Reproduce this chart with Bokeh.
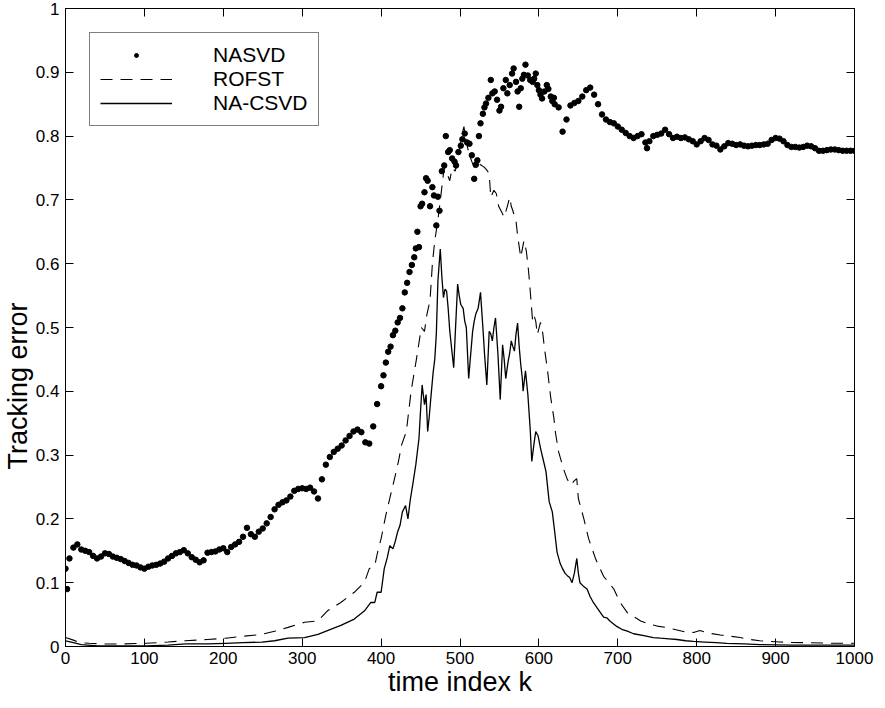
from bokeh.plotting import figure
from bokeh.models import Range1d, LinearAxis, FixedTicker, Legend, LegendItem, Title
from bokeh.embed import file_html
from bokeh.resources import INLINE

# ---------------- data ----------------
x_ticks = [0, 100, 200, 300, 400, 500, 600, 700, 800, 900, 1000]
x_tick_labels = ["0", "100", "200", "300", "400", "500", "600", "700", "800", "900", "1000"]
y_ticks = [0, 0.1, 0.2, 0.3, 0.4, 0.5, 0.6, 0.7, 0.8, 0.9, 1]
y_tick_labels = ["0", "0.1", "0.2", "0.3", "0.4", "0.5", "0.6", "0.7", "0.8", "0.9", "1"]

series_names = ["NASVD", "ROFST", "NA-CSVD"]
x_title = "time index k"
y_title = "Tracking error"

nasvd_k = [
    0, 2, 5, 10, 15, 20, 25, 30, 35, 40, 45, 50, 55, 60, 65, 70, 75, 80, 85, 90, 95,
    100, 105, 110, 115, 120, 125, 130, 135, 140, 145, 150, 155, 160, 165, 170, 175,
    180, 185, 190, 195, 200, 205, 210, 215, 220, 225, 230, 235, 240, 245, 250, 255,
    260, 265, 270, 275, 280, 285, 290, 295, 300, 305, 310, 315, 320, 325, 330, 335,
    340, 345, 350, 355, 360, 365, 370, 375, 380, 385, 390, 395, 400,
    403, 406, 409, 412, 415, 418, 421, 424, 427, 430, 433, 436, 439, 442, 444, 446,
    448, 450, 452, 455, 457, 459, 462, 465, 467, 470, 472, 474, 477, 480, 482, 485,
    487, 490, 493, 495, 498, 501, 503, 506, 509, 512, 515, 518, 520, 522, 524, 526,
    529, 531, 533, 536, 539, 541, 544, 547, 550, 552, 555, 558, 560, 563, 566, 568,
    571, 573, 575, 577, 579, 581, 583, 586, 589, 592, 594, 596, 598, 600, 602, 604,
    607, 610, 612, 615, 617, 619,
    620, 625, 630, 635, 640, 645, 650, 655, 660, 665, 670, 675, 680, 685, 690, 695,
    700, 705, 710, 715, 720, 725, 730, 735, 737, 740, 745, 750, 755, 760, 765, 770,
    775, 780, 785, 790, 795, 800, 805, 810, 815, 820, 825, 830, 835, 840, 845, 850,
    855, 860, 865, 870, 875, 880, 885, 890, 895, 900, 905, 910, 915, 920, 925, 930,
    935, 940, 945, 950, 955, 960, 965, 970, 975, 980, 985, 990, 995, 1000,
]
nasvd_err = [
    0.122, 0.09, 0.138, 0.155, 0.16, 0.152, 0.15, 0.148, 0.142, 0.138, 0.141, 0.146,
    0.145, 0.141, 0.139, 0.137, 0.134, 0.131, 0.128, 0.127, 0.124,
    0.122, 0.125, 0.127, 0.128, 0.13, 0.133, 0.138, 0.142, 0.146, 0.148, 0.151, 0.146,
    0.14, 0.136, 0.132, 0.135,
    0.147, 0.148, 0.149, 0.152, 0.154, 0.148, 0.156, 0.16, 0.164, 0.172, 0.186, 0.176,
    0.172, 0.18, 0.185, 0.193,
    0.203, 0.215, 0.222, 0.226, 0.229, 0.235, 0.244, 0.247, 0.248, 0.247, 0.249, 0.243,
    0.232, 0.262, 0.285, 0.297,
    0.305, 0.31, 0.315, 0.323, 0.33, 0.337, 0.34, 0.336, 0.32, 0.318, 0.345, 0.38, 0.408,
    0.425, 0.445, 0.462, 0.47, 0.488, 0.495, 0.508, 0.515, 0.53, 0.555, 0.57, 0.587,
    0.598, 0.61, 0.624, 0.65,
    0.626, 0.69, 0.694, 0.712, 0.734, 0.73, 0.69, 0.72, 0.707, 0.66, 0.705, 0.683,
    0.745, 0.754, 0.8, 0.775,
    0.778, 0.765, 0.76, 0.754, 0.775, 0.785, 0.795, 0.804, 0.79, 0.788, 0.77, 0.733,
    0.755, 0.762, 0.8, 0.82,
    0.835, 0.845, 0.851, 0.86, 0.888, 0.867, 0.87, 0.857, 0.84, 0.846, 0.875, 0.888,
    0.867, 0.88, 0.898, 0.906,
    0.885, 0.87, 0.846, 0.875, 0.89, 0.896, 0.912, 0.895, 0.888, 0.885, 0.89, 0.898,
    0.88, 0.872, 0.865, 0.859,
    0.87, 0.88, 0.874, 0.862, 0.855, 0.86,
    0.85, 0.845, 0.807, 0.826, 0.848, 0.852, 0.855, 0.862, 0.872, 0.876, 0.865, 0.85,
    0.834, 0.826, 0.822, 0.82,
    0.815, 0.81, 0.805, 0.8, 0.797, 0.8, 0.803, 0.79, 0.781, 0.792, 0.8, 0.802, 0.804,
    0.81, 0.803, 0.797,
    0.799, 0.797, 0.798, 0.795, 0.792, 0.787, 0.792, 0.797, 0.794, 0.787, 0.785, 0.779,
    0.784, 0.789, 0.788, 0.786,
    0.787, 0.785, 0.784, 0.785, 0.786, 0.786, 0.787, 0.788, 0.794, 0.797, 0.796, 0.792,
    0.786, 0.783, 0.783, 0.782,
    0.783, 0.785, 0.784, 0.781, 0.777, 0.777, 0.778, 0.779, 0.779, 0.778, 0.777, 0.777,
    0.777, 0.777,
]

rofst_k = [
    0, 10, 18, 30, 47, 70, 102, 130, 152, 180, 203, 225, 249, 265, 282, 303, 320, 332,
    349, 366, 379, 385, 392, 396, 400, 406, 411, 417, 422, 426, 432, 438, 445, 451, 455,
    458, 462, 465, 468, 471, 474, 477, 480, 484, 487, 490, 494, 498, 502, 505, 508, 512,
    515, 518, 522, 526, 531, 535, 537, 539, 543, 546, 549, 552, 556, 560, 563, 565, 567,
    571, 573, 577, 581, 584, 586, 588, 590, 592, 594, 596, 598, 602, 605, 607, 611, 615,
    619, 621, 625, 631, 636, 640, 645, 648, 650, 657, 663, 672, 682, 690, 695, 703, 712,
    720, 729, 740, 750, 760, 771, 785, 796, 804, 815, 830, 843, 855, 868, 880, 893, 905,
    920, 939, 960, 975, 990, 1000,
]
rofst_err = [
    0.014, 0.01, 0.006, 0.005, 0.004, 0.004, 0.005, 0.007, 0.009, 0.011, 0.013, 0.016,
    0.019, 0.024, 0.03, 0.038, 0.04, 0.056,
    0.069, 0.085, 0.101, 0.122, 0.127, 0.15, 0.169, 0.206, 0.232, 0.263, 0.29, 0.316,
    0.337, 0.4, 0.452, 0.5, 0.494,
    0.52, 0.542, 0.6, 0.636, 0.66, 0.688, 0.72, 0.751, 0.74, 0.73, 0.75, 0.745, 0.77,
    0.8, 0.815, 0.79, 0.77,
    0.76, 0.751, 0.76, 0.755, 0.751, 0.745, 0.741, 0.704, 0.715, 0.71, 0.69, 0.683,
    0.673, 0.69, 0.704, 0.69, 0.683,
    0.667, 0.644, 0.61, 0.636, 0.62, 0.6, 0.573, 0.542, 0.51, 0.518, 0.51, 0.489, 0.508,
    0.49, 0.468, 0.432, 0.39,
    0.358, 0.335, 0.305, 0.279, 0.262, 0.253, 0.26, 0.263, 0.232, 0.2, 0.169, 0.137,
    0.11, 0.098, 0.09, 0.069, 0.053,
    0.047, 0.04, 0.035, 0.032, 0.03, 0.027, 0.023, 0.022, 0.025, 0.021, 0.018, 0.016,
    0.014, 0.011, 0.009, 0.008, 0.007,
    0.0065, 0.006, 0.0055, 0.005, 0.005, 0.005,
]

nacsvd_k = [
    0, 10, 20, 40, 70, 102, 130, 152, 180, 203, 225, 249, 265, 282, 303, 320, 332, 349,
    366, 379, 387, 392, 395, 400, 404, 408, 411, 415, 418, 421, 424, 427, 431, 434, 437,
    440, 444, 448, 450, 452, 455, 457, 459, 461, 463, 466, 468, 470, 472, 475, 477, 479,
    481, 483, 485, 487, 490, 492, 494, 497, 499, 501, 504, 506, 508, 511, 513, 516, 518,
    520, 523, 526, 529, 531, 534, 537, 539, 541, 543, 545, 548, 551, 554, 556, 558, 561,
    563, 565, 567, 569, 571, 573, 575, 577, 579, 580, 583, 586, 589, 591, 594, 596, 599,
    602, 606, 609, 613, 617, 620, 623, 627, 630, 633, 636, 639, 642, 645, 648, 650, 652,
    656, 661, 665, 669, 674, 678, 682, 686, 690, 695, 698, 705, 712, 720, 733, 745, 754,
    765, 775, 786, 796, 810, 825, 838, 860, 880, 900, 922, 950, 975, 1000,
]
nacsvd_err = [
    0.009, 0.006, 0.003, 0.001, 0.001, 0.001, 0.002, 0.004, 0.004, 0.005, 0.006, 0.007,
    0.009, 0.013, 0.014, 0.019, 0.025, 0.033,
    0.043, 0.056, 0.069, 0.069, 0.085, 0.085, 0.122, 0.14, 0.158, 0.153, 0.165, 0.18,
    0.19, 0.211, 0.221, 0.2, 0.23,
    0.253, 0.285, 0.326, 0.37, 0.41, 0.379, 0.395, 0.337, 0.36, 0.389, 0.43, 0.45, 0.49,
    0.573, 0.623, 0.58, 0.547,
    0.56, 0.557, 0.53, 0.495, 0.46, 0.437, 0.49, 0.568, 0.55, 0.536, 0.53, 0.51, 0.5,
    0.42, 0.45, 0.494, 0.51,
    0.521, 0.53, 0.555, 0.5, 0.46, 0.41, 0.494, 0.49, 0.479, 0.5, 0.515, 0.46, 0.387,
    0.473, 0.45, 0.42, 0.447,
    0.46, 0.479, 0.47, 0.463, 0.49, 0.507, 0.47, 0.442, 0.42, 0.4, 0.432, 0.395, 0.34,
    0.29, 0.32, 0.337, 0.33,
    0.311, 0.29, 0.274, 0.227, 0.211, 0.18, 0.148, 0.13, 0.122, 0.115, 0.111, 0.108,
    0.1, 0.115, 0.138, 0.115, 0.1,
    0.095, 0.09, 0.078, 0.069, 0.06, 0.053, 0.046, 0.045, 0.04, 0.035, 0.032, 0.027,
    0.024, 0.02, 0.017, 0.014, 0.013,
    0.012, 0.011, 0.009, 0.008, 0.007, 0.006, 0.005, 0.004, 0.003, 0.0025, 0.002, 0.002,
    0.002, 0.002,
]

FONT = "Liberation Sans"

p = figure(
    width=877, height=700,
    x_range=Range1d(0, 1000), y_range=Range1d(0, 1),
    output_backend="svg", toolbar_location=None,
    min_border_left=61, min_border_right=23, min_border_top=8, min_border_bottom=54,
)
p.xgrid.visible = False
p.ygrid.visible = False
p.outline_line_color = "black"
p.outline_line_width = 1
p.outline_line_alpha = 1
p.background_fill_color = "white"
p.border_fill_color = "white"

xtick_map = {float(t): s for t, s in zip(x_ticks, x_tick_labels)}
ytick_map = {float(t): s for t, s in zip(y_ticks, y_tick_labels)}


def style_axis(ax, ticks, labels_map, show_labels):
    ax.ticker = FixedTicker(ticks=ticks)
    ax.minor_tick_line_color = None
    ax.major_tick_in = 8
    ax.major_tick_out = 0
    ax.major_tick_line_color = "black"
    ax.major_tick_line_width = 1
    ax.axis_line_color = "black"
    ax.axis_line_width = 1
    if show_labels:
        ax.major_label_overrides = labels_map
        ax.major_label_text_font = FONT
        ax.major_label_text_font_size = "17px"
        ax.major_label_text_color = "black"
        ax.major_label_standoff = 5
    else:
        ax.major_label_text_font_size = "0px"
        ax.major_label_text_color = None
        ax.major_label_standoff = 0


style_axis(p.xaxis[0], x_ticks, xtick_map, True)
style_axis(p.yaxis[0], y_ticks, ytick_map, True)
p.yaxis[0].major_label_standoff = 6

p.xaxis[0].axis_label = x_title
p.xaxis[0].axis_label_text_font = FONT
p.xaxis[0].axis_label_text_font_size = "27px"
p.xaxis[0].axis_label_text_font_style = "normal"
p.xaxis[0].axis_label_text_color = "black"
p.xaxis[0].axis_label_standoff = 0

top_ax = LinearAxis()
style_axis(top_ax, x_ticks, xtick_map, False)
p.add_layout(top_ax, "above")
right_ax = LinearAxis()
style_axis(right_ax, y_ticks, ytick_map, False)
p.add_layout(right_ax, "right")

r_n = p.scatter(nasvd_k, nasvd_err, size=5.5, marker="circle", color="black")
r_r = p.line(rofst_k, rofst_err, line_color="black", line_width=1.1, line_dash="12 8")
r_c = p.line(nacsvd_k, nacsvd_err, line_color="black", line_width=1.3)

legend = Legend(
    items=[
        LegendItem(label=series_names[0], renderers=[r_n]),
        LegendItem(label=series_names[1], renderers=[r_r]),
        LegendItem(label=series_names[2], renderers=[r_c]),
    ],
    location="top_left",
    margin=24,
    label_text_font=FONT,
    label_text_font_size="21px",
    label_text_color="black",
    glyph_width=72,
    glyph_height=10,
    label_height=22,
    label_standoff=41,
    spacing=0,
    padding=10,
    border_line_color="black",
    border_line_width=1,
    background_fill_color="white",
    background_fill_alpha=1,
)
p.add_layout(legend)

ytitle = Title(
    text=y_title, align="left", offset=177, standoff=0,
    text_font=FONT, text_font_size="27px", text_font_style="normal", text_color="black",
)
p.add_layout(ytitle, "left")

open("out.html", "w").write(file_html(p, INLINE))
